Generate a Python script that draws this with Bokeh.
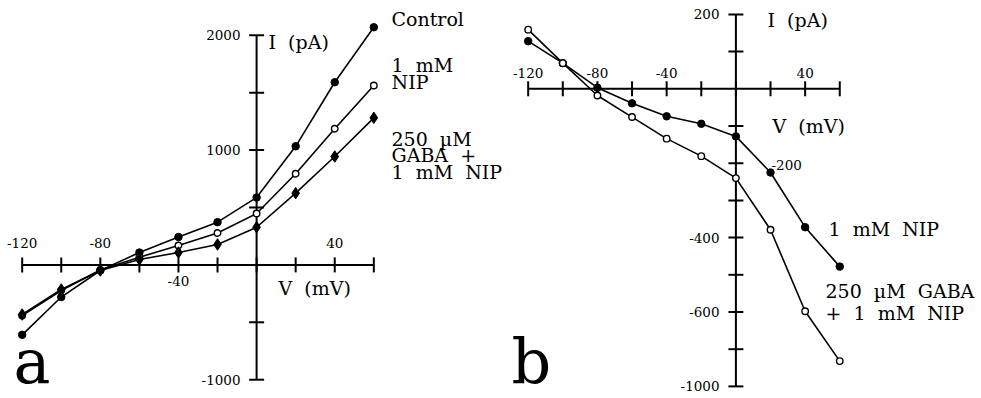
import math
from bokeh.plotting import figure
from bokeh.models import Range1d
from bokeh.layouts import row
from bokeh.core.properties import value
from bokeh.embed import file_html
from bokeh.resources import INLINE

# ---------------- data ----------------
voltage = [-120, -100, -80, -60, -40, -20, 0, 20, 40, 60]  # mV

# panel a  (pA)
a_control = [-609, -280, -49, 108, 243, 372, 587, 1033, 1591, 2070]
a_nip = [-441, -223, -44, 67, 169, 278, 448, 794, 1186, 1563]
a_gaba_nip = [-432, -214, -49, 47, 108, 178, 328, 625, 944, 1281]

# panel b  (pA)
b_nip = [128, 69, 3, -39, -74, -94, -128, -225, -372, -478]
b_gaba_nip = [159, 69, -18, -76, -134, -181, -240, -379, -598, -732]

a_xticks = [-120, -100, -80, -60, -40, -20, 0, 20, 40, 60]
a_yticks = [2000, 1500, 1000, 500, -500, -1000]
a_xlabels_above = [-120, -80, 40]
a_xlabels_below = [-40]
a_ylabels = [2000, 1000, -1000]

b_xticks = [-120, -100, -80, -60, -40, -20, 0, 20, 40, 60]
b_yticks = [200, 100, -100, -200, -300, -400, -500, -600, -700, -800]
b_xlabels = [-120, -80, -40, 40]
b_ylabels_left = [200, -400, -600, -800]
b_ylabels_left_text = ["200", "-400", "-600", "-1000"]
b_ylabel_right = [-200]

FONT = "DejaVu Serif"
SP = "\u00a0\u00a0"   # wide gap between words, as in the figure
H = 398

# ---------------- geometry (pixel scale of each panel) ----------------
WA = 506
XA0, XAS = 256.1, 1.9535     # px of V=0, px per mV
YA0, YAS = 264.4, 0.1148     # px of I=0, px per pA

WB = 981 - WA
XB0, XBS = 735.4 - WA, 1.731
YB0, YBS = 88.3, 0.372


def make_fig(w, x0, xs, y0, ys):
    p = figure(width=w, height=H,
               x_range=Range1d(-x0 / xs, (w - x0) / xs),
               y_range=Range1d((y0 - H) / ys, y0 / ys),
               output_backend="svg", toolbar_location=None,
               x_axis_location=None, y_axis_location=None,
               min_border=0, outline_line_color=None,
               background_fill_color="white", border_fill_color="white")
    p.grid.visible = False
    return p


def txt(p, x, y, s, size, align="left", baseline="middle"):
    p.text(x=x, y=y, text=s, text_font=value(FONT), text_font_size=size,
           text_align=align, text_baseline=baseline, text_color="black")


# ---------------- panel a ----------------
pa = make_fig(WA, XA0, XAS, YA0, YAS)
ax = lambda px: (px - XA0) / XAS
ay = lambda py: (YA0 - py) / YAS

pa.line([a_xticks[0], a_xticks[-1]], [0, 0], line_width=2, color="black")
pa.line([0, 0], [min(a_yticks), max(a_yticks)], line_width=2, color="black")
pa.scatter(a_xticks, [0] * len(a_xticks), marker="dash", size=15, angle=math.pi / 2,
           line_width=2, line_color="black")
pa.scatter([0] * len(a_yticks), a_yticks, marker="dash", size=15,
           line_width=2, line_color="black")

txt(pa, a_xlabels_above, [ay(242)] * len(a_xlabels_above),
    [str(v) for v in a_xlabels_above], "13.5px", "center")
txt(pa, a_xlabels_below, [ay(280)] * len(a_xlabels_below),
    [str(v) for v in a_xlabels_below], "13.5px", "center")
txt(pa, [ax(240)] * len(a_ylabels), a_ylabels, [str(v) for v in a_ylabels], "13.5px", "right")

for ys in (a_control, a_nip, a_gaba_nip):
    pa.line(voltage, ys, line_width=1.6, color="black")
pa.scatter(voltage, a_control, marker="circle", size=7.5, fill_color="black", line_color="black")
pa.scatter(voltage, a_nip, marker="circle", size=6.5, fill_color="white",
           line_color="black", line_width=1.4)
pa.scatter(voltage, a_gaba_nip, marker="diamond", size=11.5, fill_color="black", line_color="black")

txt(pa, [ax(268)], [ay(41)], ["I" + SP + "(pA)"], "19px")
txt(pa, [ax(278)], [ay(287)], ["V" + SP + "(mV)"], "19px")
lab_x = ax(391)
txt(pa, [lab_x] * 6, [ay(18), ay(64), ay(81), ay(138), ay(154), ay(171)],
    ["Control", "1" + SP + "mM", "NIP", "250" + SP + "\u00b5M", "GABA" + SP + "+",
     "1" + SP + "mM" + SP + "NIP"], "19px")
txt(pa, [ax(13)], [ay(361)], ["a"], "62px", "left", "middle")

# ---------------- panel b ----------------
pb = make_fig(WB, XB0, XBS, YB0, YBS)
bx = lambda px: (px - WA - XB0) / XBS
by = lambda py: (YB0 - py) / YBS

pb.line([b_xticks[0], b_xticks[-1]], [0, 0], line_width=2, color="black")
pb.line([0, 0], [min(b_yticks), max(b_yticks)], line_width=2, color="black")
pb.scatter(b_xticks, [0] * len(b_xticks), marker="dash", size=15, angle=math.pi / 2,
           line_width=2, line_color="black")
pb.scatter([0] * len(b_yticks), b_yticks, marker="dash", size=15,
           line_width=2, line_color="black")

txt(pb, b_xlabels, [by(72)] * len(b_xlabels), [str(v) for v in b_xlabels], "13.5px", "center")
txt(pb, [bx(719)] * len(b_ylabels_left), b_ylabels_left, b_ylabels_left_text, "13.5px", "right")
txt(pb, [bx(771)], [by(164)], [str(v) for v in b_ylabel_right], "13.5px", "left")

pb.line(voltage, b_nip, line_width=1.6, color="black")
pb.line(voltage, b_gaba_nip, line_width=1.6, color="black")
pb.scatter(voltage, b_nip, marker="circle", size=7.5, fill_color="black", line_color="black")
pb.scatter(voltage, b_gaba_nip, marker="circle", size=6.5, fill_color="white",
           line_color="black", line_width=1.4)

txt(pb, [bx(767)], [by(19)], ["I" + SP + "(pA)"], "19px")
txt(pb, [bx(772)], [by(125)], ["V" + SP + "(mV)"], "19px")
txt(pb, [bx(828)], [by(228)], ["1" + SP + "mM" + SP + "NIP"], "19px")
txt(pb, [bx(825), bx(825)], [by(290), by(312)],
    ["250" + SP + "\u00b5M" + SP + "GABA", "+" + SP + "1" + SP + "mM" + SP + "NIP"], "19px")
txt(pb, [bx(511)], [by(361)], ["b"], "62px", "left", "middle")

layout = row(pa, pb, spacing=0)
open("out.html", "w").write(file_html(layout, INLINE))
